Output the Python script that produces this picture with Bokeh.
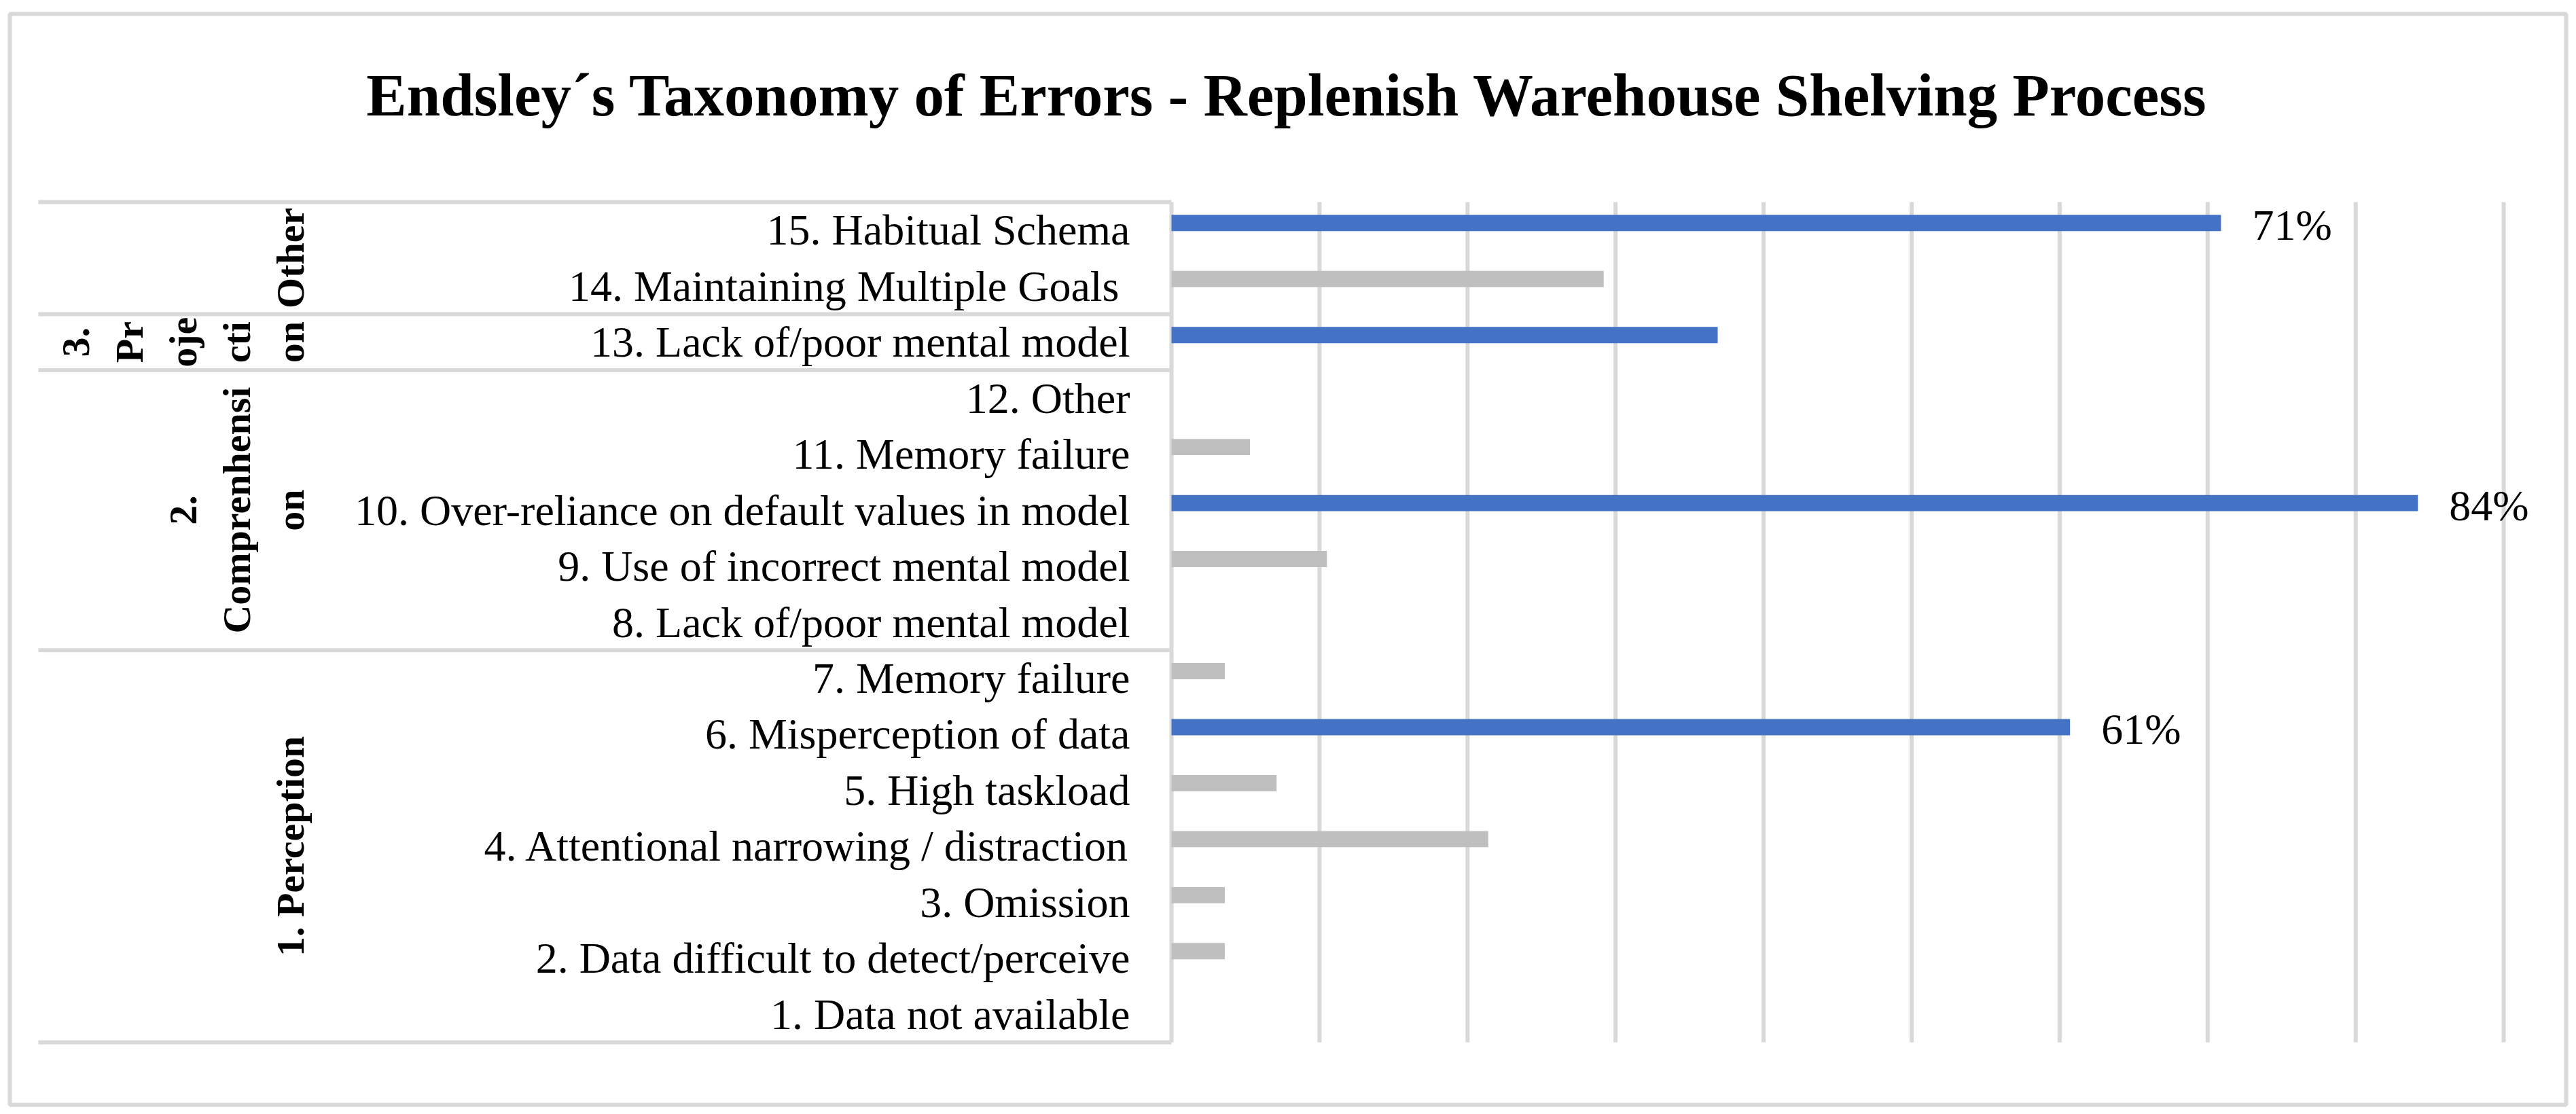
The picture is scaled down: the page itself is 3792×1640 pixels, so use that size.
from bokeh.plotting import figure
from bokeh.models import ColumnDataSource
from bokeh.embed import file_html
from bokeh.resources import INLINE
from bokeh.core.properties import value
import math

# ---------------- data ----------------
categories = [
    "1. Data not available",
    "2. Data difficult to detect/perceive",
    "3. Omission",
    "4. Attentional narrowing / distraction",
    "5. High taskload",
    "6. Misperception of data",
    "7. Memory failure",
    "8. Lack of/poor mental model",
    "9. Use of incorrect mental model",
    "10. Over-reliance on default values in model",
    "11. Memory failure",
    "12. Other",
    "13. Lack of/poor mental model",
    "14. Maintaining Multiple Goals ",
    "15. Habitual Schema",
]
values = [0.0, 0.036, 0.036, 0.214, 0.071, 0.607, 0.036, 0.0, 0.105, 0.842,
          0.053, 0.0, 0.369, 0.292, 0.709]
highlight = [0, 0, 0, 0, 0, 1, 0, 0, 0, 1, 0, 0, 1, 0, 1]
value_labels = ["", "", "", "", "", "61%", "", "", "", "84%", "", "", "", "", "71%"]
group_lines = [["1. Perception"], ["2.", "Comprenhensi", "on"],
               ["3.", "Pr", "oje", "cti", "on"], ["Other"]]
group_sizes = [7, 5, 1, 2]
x_ticks = [0.0, 0.1, 0.2, 0.3, 0.4, 0.5, 0.6, 0.7, 0.8, 0.9]
title_text = "Endsley´s Taxonomy of Errors - Replenish Warehouse Shelving Process"

# ---------------- layout constants (figure pixels) ----------------
W, H = 3784, 1632
FL, FR, FT, FB = 14, 3777, 20, 1626       # frame = chart border box
X0 = 1724                                  # px of the 0 % line
PX_PER_UNIT = 2179.0                       # px per 100 %
Y_TOP, Y_BOT = 297, 1534                   # plot area (rows) top / bottom px
n = len(categories)
PX_PER_ROW = (Y_BOT - Y_TOP) / n


def xd(px):
    return (px - X0) / PX_PER_UNIT


def yd(py):
    return 0.5 + (Y_BOT - py) / PX_PER_ROW


BLUE = "#4472C4"
GRAY = "#BFBFBF"
LINE = "#D9D9D9"
SERIF = "Liberation Serif"

rows = [i + 1 for i in range(n)]
ypos = [r + 0.127 for r in rows]
lab_y = [r + 0.085 for r in rows]
colors = [BLUE if h else GRAY for h in highlight]
src = ColumnDataSource(dict(y=ypos, ly=lab_y, v=values, c=colors, lab=value_labels))
cat_src = ColumnDataSource(dict(y=rows, x=[0.0] * n, t=categories))

p = figure(width=W, height=H, output_backend="svg", toolbar_location=None,
           x_range=(xd(FL), xd(FR)), y_range=(yd(FB), yd(FT)),
           x_axis_location=None, y_axis_location=None,
           min_border_left=FL, min_border_right=W - FR,
           min_border_top=FT, min_border_bottom=H - FB, tools="")
p.grid.visible = False
p.outline_line_color = LINE
p.outline_line_width = 6
p.background_fill_color = "white"
p.border_fill_color = "white"

# vertical gridlines (0 % line acts as the category axis line)
p.segment(x0=x_ticks, x1=x_ticks, y0=0.5, y1=n + 0.5,
          line_color=LINE, line_width=6)

# group separators of the two-level category axis
bounds = [0.5]
for s in group_sizes:
    bounds.append(bounds[-1] + s)
p.segment(x0=xd(56), x1=0.0, y0=bounds, y1=bounds, line_color=LINE, line_width=6)

# bars
p.hbar(y="y", left=0, right="v", height=0.29, color="c", line_color=None, source=src)

# category labels
p.text(x="x", y="y", text="t", source=cat_src, x_offset=-61,
       text_align="right", text_baseline="middle",
       text_font=value(SERIF), text_font_size="64px", text_color="black")

# value labels
p.text(x="v", y="ly", text="lab", source=src, x_offset=46,
       text_align="left", text_baseline="middle",
       text_font=value(SERIF), text_font_size="64px", text_color="black")

# group labels (rotated, wrapped as in the original)
gx, gy, gt = [], [], []
start = 0.5
for lines, size in zip(group_lines, group_sizes):
    yc = start + size / 2.0
    m = len(lines)
    for k, t in enumerate(lines):
        gx.append(xd(427 - (m - 1 - k) * 79))
        gy.append(yc)
        gt.append(t)
    start += size
p.text(x=gx, y=gy, text=gt, angle=math.pi / 2,
       text_align="center", text_baseline="middle",
       text_font=value(SERIF), text_font_size="58px", text_font_style="bold",
       text_color="black")

# title
p.text(x=[xd(1894.5)], y=[yd(139)], text=[title_text],
       text_align="center", text_baseline="middle",
       text_font=value(SERIF), text_font_size="89px", text_font_style="bold",
       text_color="black")

open("out.html", "w").write(file_html(p, INLINE))
